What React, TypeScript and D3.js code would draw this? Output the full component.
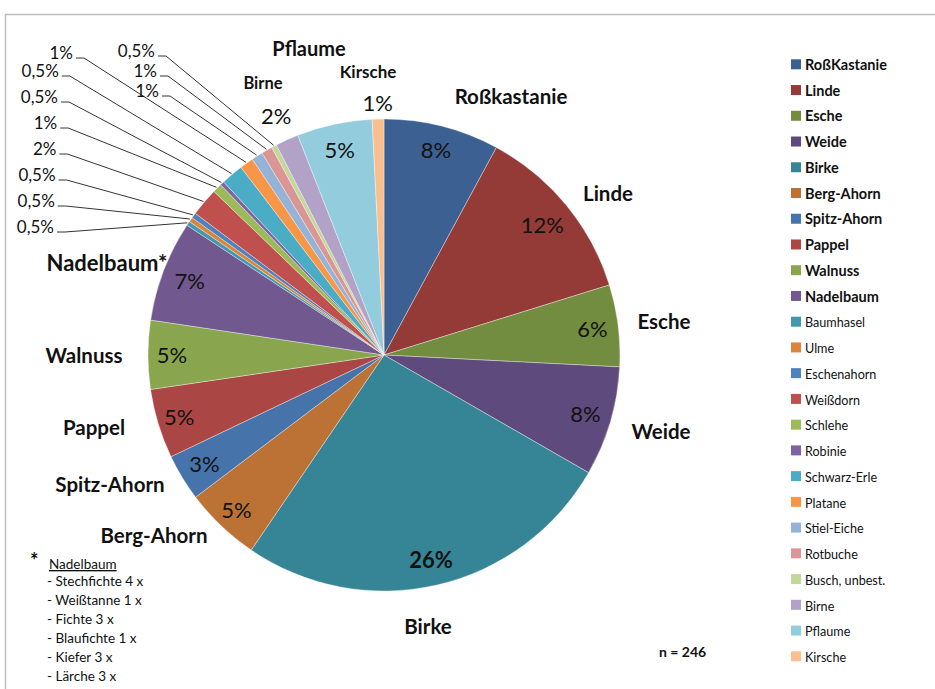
import React from 'react';
import * as d3 from 'd3';

// ---- data ----
const categories = [
  'RoßKastanie', 'Linde', 'Esche', 'Weide', 'Birke', 'Berg-Ahorn', 'Spitz-Ahorn', 'Pappel',
  'Walnuss', 'Nadelbaum', 'Baumhasel', 'Ulme', 'Eschenahorn', 'Weißdorn', 'Schlehe', 'Robinie',
  'Schwarz-Erle', 'Platane', 'Stiel-Eiche', 'Rotbuche', 'Busch, unbest.', 'Birne', 'Pflaume', 'Kirsche',
];
// share of the pie in percent, as measured from the slice angles
const shares = [
  7.9, 12.3, 5.6, 7.5, 26.2, 5.2, 3.2, 4.75, 4.7, 6.9,
  0.3, 0.32, 0.36, 1.94, 0.64, 0.28, 1.53, 0.94, 0.78, 0.75, 0.36, 1.58, 5.15, 0.8,
];
// percentage labels as printed on the chart
const valueLabels = [
  '8%', '12%', '6%', '8%', '26%', '5%', '3%', '5%', '5%', '7%',
  '0,5%', '0,5%', '0,5%', '2%', '1%', '0,5%', '0,5%', '1%', '1%', '1%', '0,5%', '2%', '5%', '1%',
];
// category names printed next to the pie
const pieNames = ['Roßkastanie', 'Linde', 'Esche', 'Weide', 'Birke', 'Berg-Ahorn', 'Spitz-Ahorn', 'Pappel', 'Walnuss', 'Nadelbaum*', 'Birne', 'Pflaume', 'Kirsche'];
const pieNameIndex = [0, 1, 2, 3, 4, 5, 6, 7, 8, 9, 21, 22, 23];
const colors = [
  '#3b6091', '#943b38', '#728d40', '#5e4a7c', '#368596', '#bc7135', '#4673a9', '#aa4643',
  '#89a54e', '#71588f', '#4198af', '#db843d', '#4f81bd', '#c0504d', '#9bbb59', '#8064a2',
  '#4bacc6', '#f79646', '#95b3d7', '#d99694', '#c3d69b', '#b2a2c7', '#93cddd', '#fabf8f',
];
const footnoteTitle = 'Nadelbaum';
const footnoteItems = ['- Stechfichte 4 x', '- Weißtanne 1 x', '- Fichte 3 x', '- Blaufichte 1 x', '- Kiefer 3 x', '- Lärche 3 x'];
const sampleSize = 'n = 246';

// ---- layout (label anchors placed like the manually arranged original) ----
const nameAnchors: { x: number; y: number; size: number }[] = [
  { x: 511, y: 104, size: 20.5 },
  { x: 608, y: 201, size: 20.5 },
  { x: 664, y: 329, size: 20.5 },
  { x: 661, y: 439, size: 20.5 },
  { x: 428, y: 634, size: 20.5 },
  { x: 154, y: 543, size: 20.5 },
  { x: 110, y: 492, size: 20.5 },
  { x: 94, y: 435, size: 20.5 },
  { x: 84, y: 363, size: 20.5 },
  { x: 107, y: 271, size: 22 },
  { x: 263, y: 89, size: 16.5 },
  { x: 309, y: 56, size: 20 },
  { x: 368, y: 78, size: 17 },
];
const insideRadius = [211, 205, 210, 210, 210, 214, 210, 214, 212, 208, 0, 0, 0, 0, 0, 0, 0, 0, 0, 0, 0, 0, 210, 0];

const FONT = 'Lato, "Open Sans", sans-serif';

export default function App() {
  const W = 935, H = 689;
  const cx = 384, cy = 355, r = 236;
  const pie = d3.pie<number>().sort(null).value((d) => d).startAngle(0).endAngle(2 * Math.PI);
  const arcs = pie(shares);
  const arcGen = d3.arc<d3.PieArcDatum<number>>().innerRadius(0).outerRadius(r);
  const polar = (a: number, rr: number): [number, number] => [cx + rr * Math.sin(a), cy - rr * Math.cos(a)];
  const mid = (d: d3.PieArcDatum<number>) => (d.startAngle + d.endAngle) / 2;

  const insideIdx = [0, 1, 2, 3, 4, 5, 6, 7, 8, 9, 22];
  const outsideIdx = [21, 23];
  const leaderIdx = d3.range(10, 21);

  const leaderPos = (k: number): [number, number] => {
    if (k < 7) return [54 + 0.8 * k, 233 - 26 * k];
    if (k === 7) return [73, 59];
    const j = k - 8;
    return [159 - 2 * j, 97 - 20 * j];
  };

  const legendY = d3.scaleLinear().domain([0, categories.length - 1]).range([70, 662]);

  return (
    <svg width={W} height={H} style={{ position: 'absolute', left: 0, top: 0, background: '#fff' }} fontFamily={FONT}>
      <rect x={0} y={0} width={W} height={H} fill="#fff" />
      <path d={`M5.5,${H} V14.5 H${W}`} fill="none" stroke="#bdbdbd" strokeWidth={1.5} />
      <g>
        {arcs.map((d, i) => (
          <path key={i} d={arcGen(d) || ''} transform={`translate(${cx},${cy})`} fill={colors[i]} stroke="#ffffff" strokeOpacity={0.6} strokeWidth={0.6} />
        ))}
      </g>
      {insideIdx.map((i) => {
        const [x, y] = polar(mid(arcs[i]), insideRadius[i]);
        return (
          <text key={'in' + i} x={x} y={y} dy="0.36em" textAnchor="middle" fontSize={22} fontWeight={i === 4 ? 700 : 400} fill="#111">
            {valueLabels[i]}
          </text>
        );
      })}
      {outsideIdx.map((i) => {
        const [x, y] = polar(mid(arcs[i]), i === 21 ? 262 : 252);
        return (
          <text key={'out' + i} x={x} y={y} dy="0.36em" textAnchor="middle" fontSize={22} fill="#111">
            {valueLabels[i]}
          </text>
        );
      })}
      {leaderIdx.map((i, k) => {
        const [xe, yb] = leaderPos(k);
        const [px, py] = polar(mid(arcs[i]), r + 1);
        return (
          <g key={'ld' + i}>
            <text x={xe} y={yb} textAnchor="end" fontSize={17} fill="#111">{valueLabels[i]}</text>
            <path d={`M${xe + 3},${yb - 1} H${xe + 11} L${px},${py}`} fill="none" stroke="#000" strokeWidth={0.8} />
          </g>
        );
      })}
      {pieNames.map((n, k) => (
        <text key={'nm' + k} x={nameAnchors[k].x} y={nameAnchors[k].y} textAnchor="middle" fontSize={nameAnchors[k].size} fontWeight={700} fill="#111" data-slice={pieNameIndex[k]}>
          {n}
        </text>
      ))}
      <g>
        {categories.map((c, i) => {
          const y = legendY(i);
          return (
            <g key={'lg' + i}>
              <rect x={791} y={y - 10.7} width={10} height={10} fill={colors[i]} />
              <text x={805} y={y} fontSize={i < 10 ? 14.5 : 12.6} fontWeight={i < 10 ? 700 : 400} fill="#111">{c}</text>
            </g>
          );
        })}
      </g>
      <text x={30} y={568} fontSize={20} fontWeight={700} fill="#111">*</text>
      <text x={49} y={569} fontSize={13.5} fill="#111" textDecoration="underline">{footnoteTitle}</text>
      {footnoteItems.map((t, i) => (
        <text key={'fn' + i} x={47} y={586 + 19 * i} fontSize={13.5} fill="#111">{t}</text>
      ))}
      <text x={659} y={657} fontSize={14} fontWeight={700} fill="#111">{sampleSize}</text>
    </svg>
  );
}
